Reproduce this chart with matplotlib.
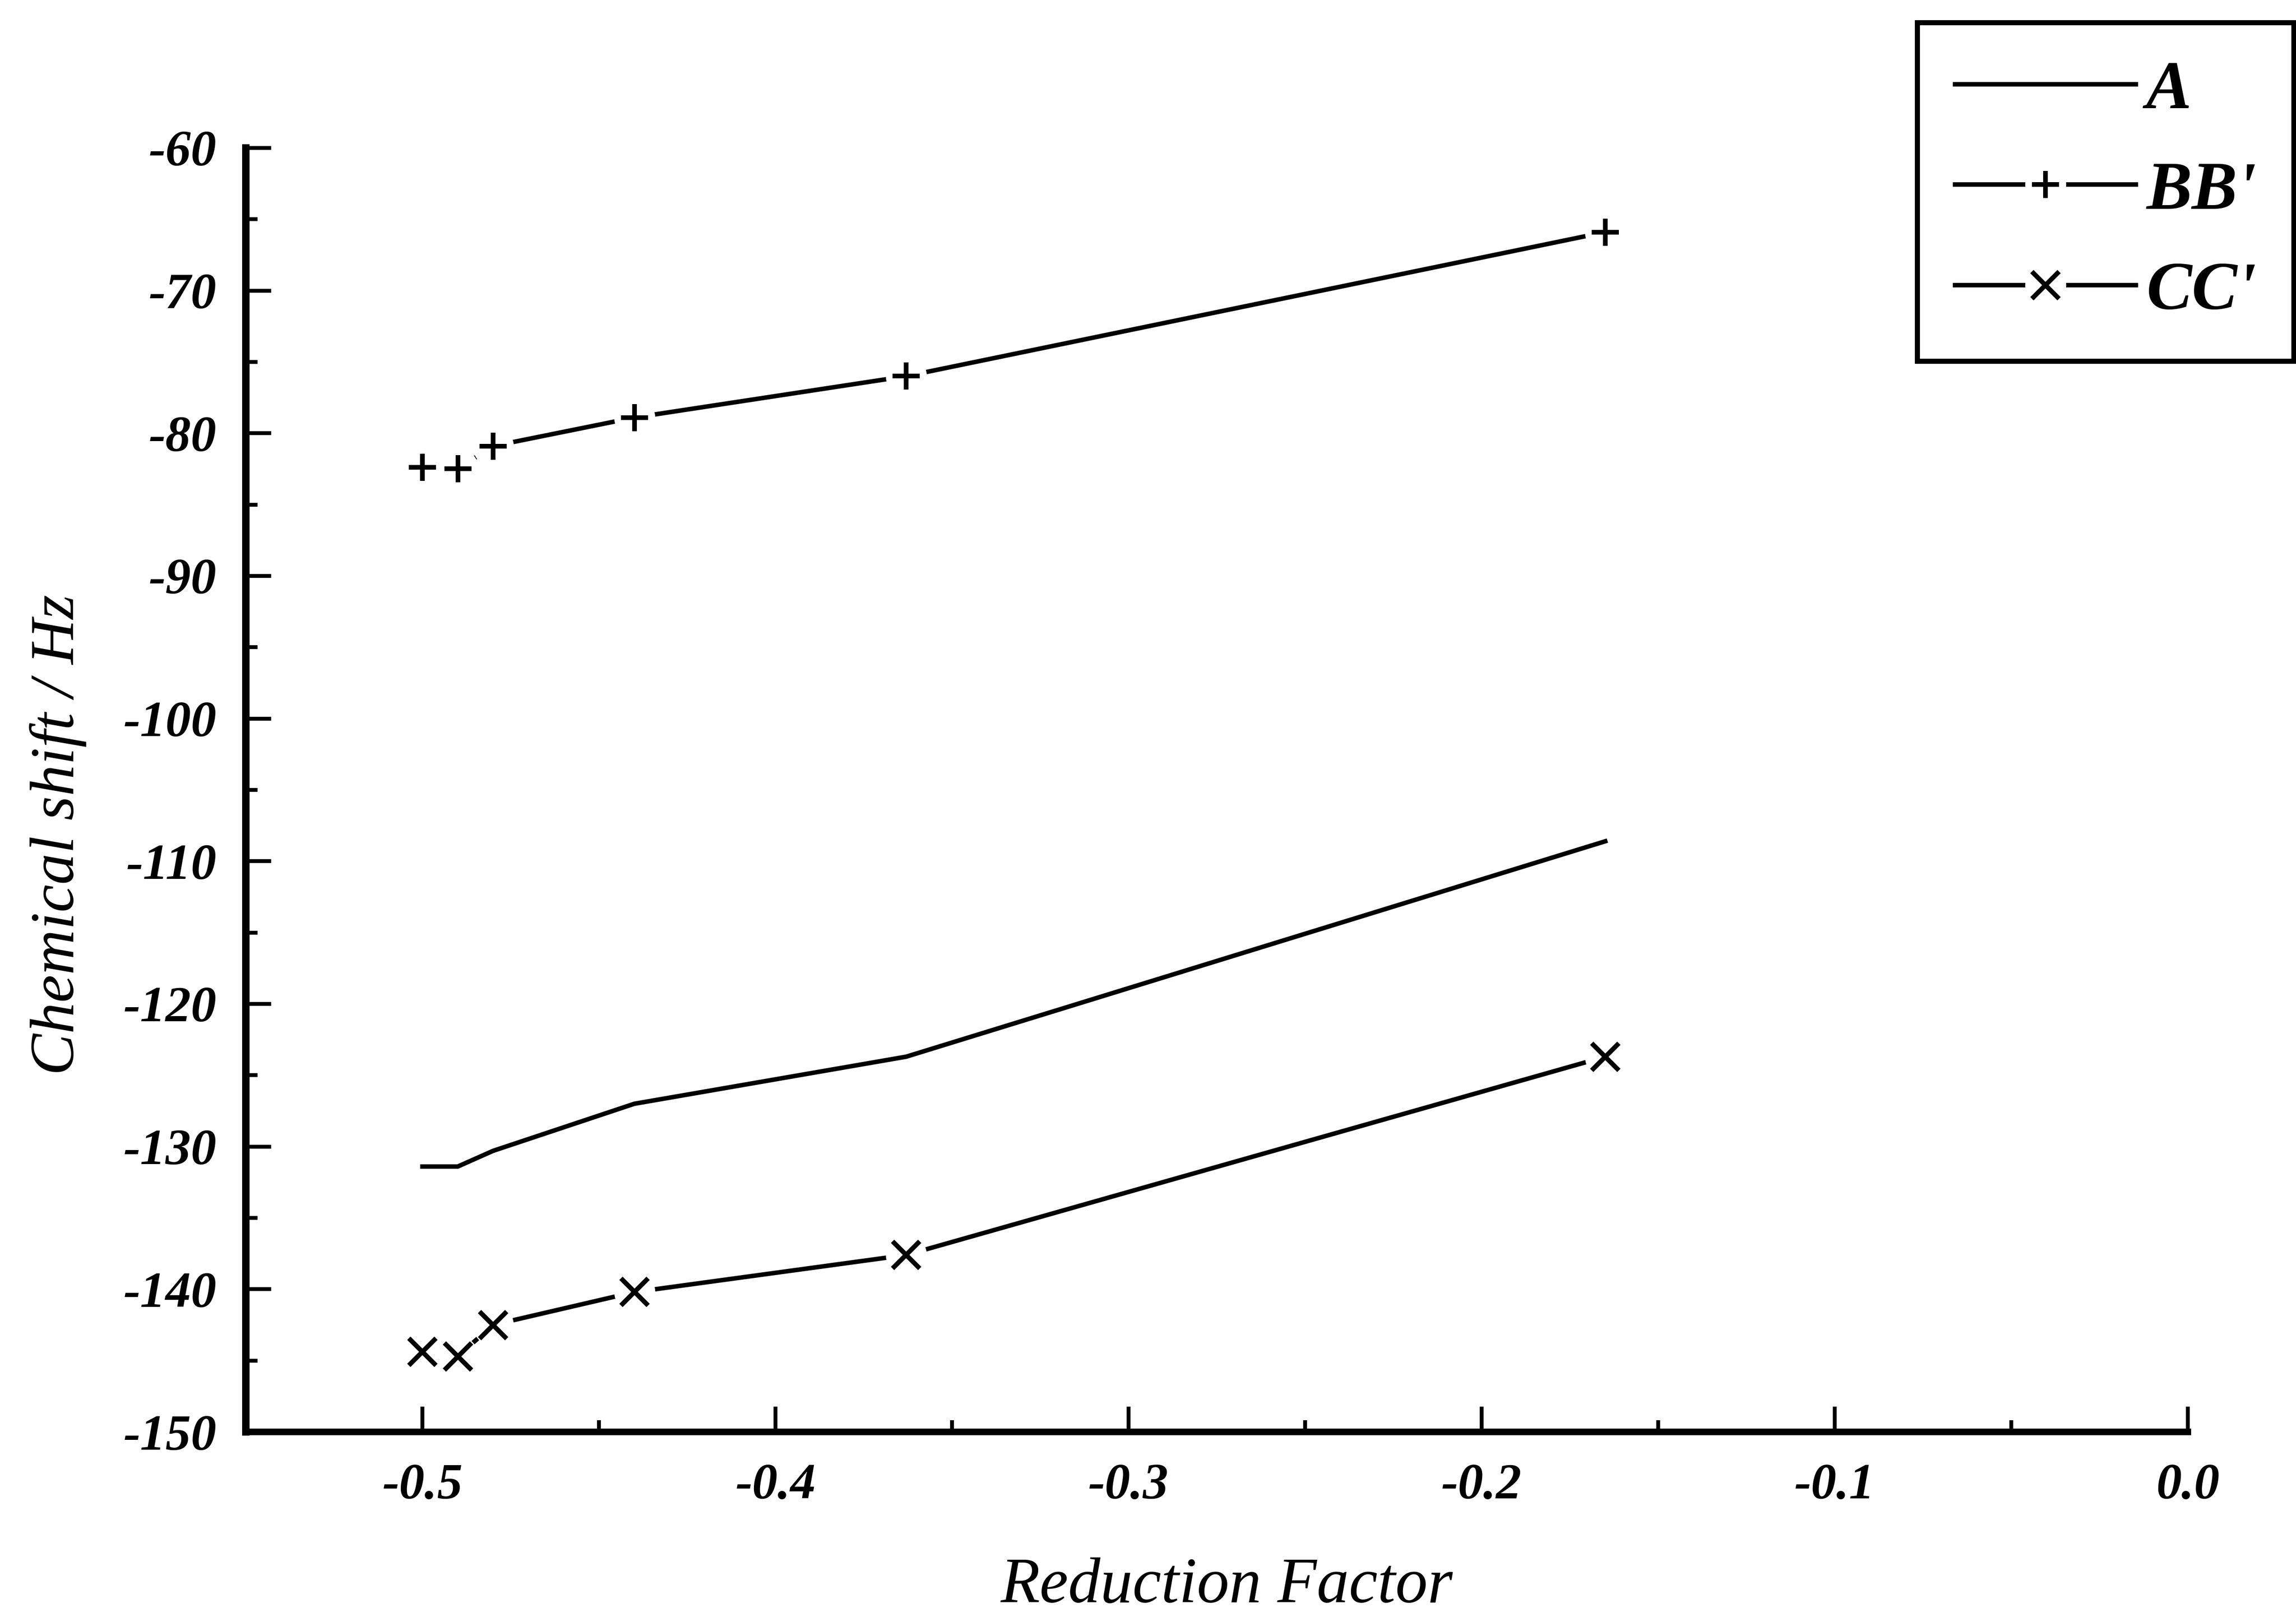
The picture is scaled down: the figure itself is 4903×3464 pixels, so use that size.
import matplotlib
matplotlib.use("Agg")
import matplotlib.pyplot as plt
from matplotlib.lines import Line2D
from matplotlib.legend_handler import HandlerTuple
from matplotlib.ticker import MultipleLocator, FormatStrFormatter

plt.rcParams["font.family"] = ["Liberation Serif", "DejaVu Serif"]
plt.rcParams["axes.unicode_minus"] = False

# data
reduction_factor = [-0.5, -0.49, -0.48, -0.44, -0.363, -0.165]
shift_A = [-131.4, -131.4, -130.3, -127.0, -123.7, -108.6]
shift_BB = [-82.4, -82.5, -80.9, -78.9, -76.0, -65.9]
shift_CC = [-144.4, -144.7, -142.5, -140.2, -137.6, -123.7]
series_labels = ["A", "BB'", "CC'"]

LW = 2.3
GAP = 21  # white disc under markers, gives the line gaps of the original

fig = plt.figure(figsize=(4903 / 300, 3464 / 300), dpi=300)
ax = fig.add_axes([0.1071, 0.1172, 0.8458, 0.7916])

ax.plot(reduction_factor, shift_A, color="black", lw=LW, zorder=2)
ax.plot(reduction_factor, shift_BB, color="black", lw=LW, zorder=2)
ax.plot(reduction_factor, shift_CC, color="black", lw=LW, zorder=2)

for ys in (shift_BB, shift_CC):
    ax.plot(reduction_factor, ys, ls="none", marker="o", ms=GAP,
            mfc="white", mec="none", zorder=3)

ax.plot(reduction_factor, shift_BB, ls="none", marker="+", ms=14,
        mew=2.4, color="black", zorder=4)
ax.plot(reduction_factor, shift_CC, ls="none", marker="x", ms=14,
        mew=2.4, color="black", zorder=4)

ax.set_xlim(-0.55, 0.0)
ax.set_ylim(-150, -60)
ax.set_xticks([-0.5, -0.4, -0.3, -0.2, -0.1, 0.0])
ax.xaxis.set_minor_locator(MultipleLocator(0.05))
ax.yaxis.set_major_locator(MultipleLocator(10))
ax.yaxis.set_minor_locator(MultipleLocator(5))
ax.xaxis.set_major_formatter(FormatStrFormatter("%.1f"))
ax.yaxis.set_major_formatter(FormatStrFormatter("%d"))

for side in ("top", "right"):
    ax.spines[side].set_visible(False)
ax.spines["left"].set_linewidth(3.8)
ax.spines["bottom"].set_linewidth(3.4)

ax.tick_params(which="both", direction="in", width=2.0, top=False, right=False)
ax.tick_params(which="major", length=13)
ax.tick_params(which="minor", length=6)
ax.tick_params(axis="y", which="major", pad=15)
ax.tick_params(axis="x", which="major", pad=16)
for lab in ax.get_xticklabels() + ax.get_yticklabels():
    lab.set_fontsize(26)
    lab.set_fontstyle("italic")
    lab.set_fontweight("bold")

ax.set_xlabel("Reduction Factor", fontsize=33, style="italic", va="top")
ax.xaxis.set_label_coords(0.505, -0.098)
ax.set_ylabel("Chemical shift / Hz", fontsize=32, style="italic")
ax.yaxis.set_label_coords(-0.082, 0.465)

# legend handles with the same gaps round the markers
h_a = Line2D([], [], color="black", lw=LW)
h_line = Line2D([], [], color="black", lw=LW)
h_disc = Line2D([], [], ls="none", marker="o", ms=GAP, mfc="white", mec="none")
h_plus = Line2D([], [], ls="none", marker="+", ms=14, mew=2.4, color="black")
h_x = Line2D([], [], ls="none", marker="x", ms=14, mew=2.4, color="black")

leg = fig.legend([h_a, (h_line, h_disc, h_plus), (h_line, h_disc, h_x)],
                 series_labels,
                 handler_map={tuple: HandlerTuple(ndivide=1)},
                 loc="upper right", bbox_to_anchor=(0.999, 0.986),
                 prop={"family": ["Liberation Serif", "DejaVu Serif"],
                       "style": "italic", "weight": "bold", "size": 35},
                 handlelength=2.65, handletextpad=0.15, labelspacing=0.56,
                 borderpad=0.55, borderaxespad=0.0, fancybox=False,
                 frameon=True, edgecolor="black", framealpha=1)
leg.get_frame().set_linewidth(2.6)

fig.savefig("out.png", dpi=300, facecolor="white")
